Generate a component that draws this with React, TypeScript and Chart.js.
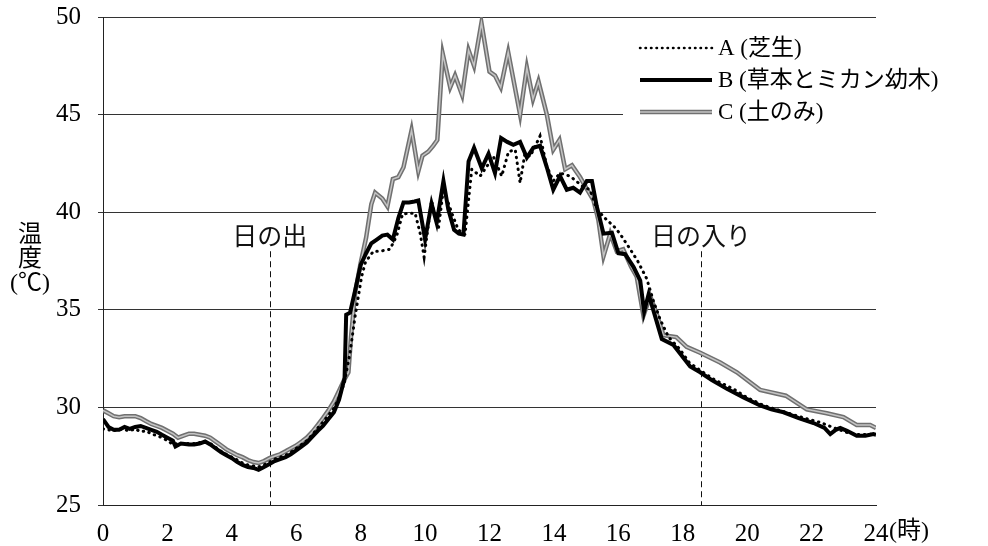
import React, { useEffect, useRef } from 'react';
import { Chart, registerables } from 'chart.js';

Chart.register(...registerables);

// ---- data (hours of day, temperature °C) ----
const hoursA = [0, 0.17, 0.33, 0.5, 0.67, 0.83, 1.0, 1.17, 1.33, 1.5, 1.67, 1.83, 2.0, 2.17, 2.33, 2.5, 2.67, 2.83, 3.0, 3.17, 3.33, 3.5, 3.67, 3.83, 4.0, 4.17, 4.33, 4.5, 4.67, 4.83, 5.0, 5.17, 5.33, 5.5, 5.67, 5.83, 6.0, 6.17, 6.33, 6.5, 6.67, 6.83, 7.0, 7.17, 7.33, 7.5, 7.67, 7.83, 7.95, 8.03, 8.14, 8.3, 8.4, 8.6, 8.91, 9.12, 9.3, 9.5, 9.69, 9.85, 9.97, 10.2, 10.41, 10.57, 10.83, 11.03, 11.24, 11.45, 11.71, 11.92, 12.12, 12.38, 12.59, 12.8, 12.95, 13.1, 13.26, 13.57, 13.78, 13.98, 14.19, 14.5, 14.91, 15.12, 15.33, 15.64, 15.85, 16.05, 16.37, 16.6, 16.88, 17.1, 17.3, 17.56, 17.9, 18.2, 18.54, 19.0, 19.57, 20.0, 20.51, 21.0, 21.54, 22.0, 22.27, 22.7, 23.09, 23.5, 23.92, 24];
const tempA = [28.9, 28.85, 28.8, 28.9, 28.85, 28.8, 28.9, 28.75, 28.8, 28.65, 28.55, 28.45, 28.3, 28.1, 28.15, 28.15, 28.15, 28.15, 28.2, 28.25, 28.15, 27.95, 27.75, 27.6, 27.45, 27.3, 27.15, 27.05, 27.0, 26.95, 27.05, 27.2, 27.35, 27.45, 27.55, 27.7, 27.9, 28.1, 28.3, 28.6, 28.95, 29.25, 29.6, 29.95, 30.5, 31.3, 32.8, 34.7, 35.9, 36.7, 37.4, 37.8, 38.0, 38.0, 38.1, 38.8, 39.9, 39.95, 39.95, 38.9, 37.7, 40.6, 39.1, 41.2, 39.95, 39.1, 38.85, 42.2, 41.85, 42.35, 42.85, 41.85, 43.1, 43.2, 41.5, 43.0, 42.85, 43.9, 42.35, 41.6, 42.0, 41.85, 41.3, 41.15, 40.15, 39.6, 39.3, 38.9, 38.1, 37.5, 36.6, 35.4, 34.5, 33.6, 33.0, 32.3, 31.9, 31.4, 30.95, 30.5, 30.1, 29.85, 29.57, 29.35, 29.23, 28.95, 28.72, 28.6, 28.63, 28.6];

const hoursB = [0, 0.17, 0.33, 0.5, 0.67, 0.83, 1.0, 1.17, 1.33, 1.5, 1.67, 1.83, 2.0, 2.17, 2.25, 2.42, 2.67, 2.83, 3.0, 3.17, 3.33, 3.5, 3.67, 3.83, 4.0, 4.17, 4.33, 4.5, 4.67, 4.83, 5.0, 5.17, 5.33, 5.5, 5.67, 5.83, 6.0, 6.17, 6.33, 6.5, 6.67, 6.83, 7.0, 7.17, 7.33, 7.5, 7.55, 7.67, 7.83, 8.0, 8.17, 8.33, 8.5, 8.67, 8.83, 9.0, 9.17, 9.33, 9.5, 9.67, 9.79, 10.0, 10.2, 10.36, 10.57, 10.72, 10.9, 11.05, 11.19, 11.35, 11.52, 11.76, 11.97, 12.17, 12.36, 12.55, 12.74, 12.95, 13.16, 13.36, 13.57, 13.78, 13.98, 14.19, 14.4, 14.6, 14.81, 15.02, 15.18, 15.33, 15.54, 15.8, 16.0, 16.21, 16.47, 16.68, 16.8, 16.94, 17.35, 17.71, 18.23, 18.54, 18.9, 19.37, 19.9, 20.4, 20.75, 21.13, 21.6, 22.06, 22.4, 22.58, 22.75, 22.89, 23.1, 23.4, 23.67, 23.92, 24];
const tempB = [29.4, 29.0, 28.85, 28.85, 29.0, 28.9, 29.0, 29.05, 28.95, 28.85, 28.75, 28.6, 28.45, 28.3, 28.0, 28.15, 28.1, 28.1, 28.15, 28.25, 28.1, 27.9, 27.7, 27.55, 27.4, 27.2, 27.05, 26.95, 26.9, 26.8, 26.95, 27.1, 27.25, 27.35, 27.45, 27.6, 27.8, 28.0, 28.2, 28.5, 28.8, 29.05, 29.4, 29.75, 30.4, 31.5, 34.75, 34.85, 36.0, 37.3, 37.9, 38.4, 38.6, 38.8, 38.85, 38.6, 39.7, 40.5, 40.5, 40.55, 40.6, 38.6, 40.45, 39.45, 41.6, 40.15, 39.1, 38.9, 38.85, 42.6, 43.3, 42.25, 43.0, 42.0, 43.8, 43.6, 43.45, 43.6, 42.8, 43.3, 43.4, 42.3, 41.15, 41.85, 41.15, 41.25, 41.0, 41.6, 41.6, 40.3, 38.9, 38.95, 37.9, 37.85, 37.2, 36.5, 34.9, 35.8, 33.5, 33.2, 32.1, 31.8, 31.4, 30.95, 30.5, 30.1, 29.9, 29.75, 29.45, 29.2, 28.95, 28.63, 28.85, 28.95, 28.8, 28.55, 28.55, 28.63, 28.6];

const hoursC = [0, 0.17, 0.33, 0.5, 0.67, 0.83, 1.0, 1.17, 1.33, 1.5, 1.67, 1.83, 2.0, 2.17, 2.33, 2.5, 2.67, 2.83, 3.0, 3.17, 3.33, 3.5, 3.67, 3.83, 4.0, 4.17, 4.33, 4.5, 4.67, 4.83, 5.0, 5.17, 5.33, 5.5, 5.67, 5.83, 6.0, 6.17, 6.33, 6.5, 6.67, 6.83, 7.0, 7.17, 7.33, 7.5, 7.62, 7.7, 7.83, 8.0, 8.17, 8.33, 8.45, 8.67, 8.83, 9.0, 9.17, 9.33, 9.58, 9.79, 9.92, 10.1, 10.25, 10.38, 10.55, 10.78, 10.93, 11.15, 11.35, 11.52, 11.75, 12.0, 12.17, 12.35, 12.58, 12.95, 13.16, 13.35, 13.52, 13.78, 13.98, 14.17, 14.35, 14.56, 14.81, 15.02, 15.23, 15.38, 15.54, 15.75, 15.95, 16.15, 16.4, 16.57, 16.78, 16.99, 17.19, 17.4, 17.8, 18.12, 18.54, 19.16, 19.68, 20.4, 21.2, 21.85, 22.47, 22.99, 23.4, 23.82, 24];
const tempC = [29.85, 29.7, 29.55, 29.5, 29.55, 29.55, 29.55, 29.45, 29.3, 29.15, 29.05, 28.95, 28.8, 28.65, 28.45, 28.55, 28.65, 28.65, 28.6, 28.55, 28.45, 28.25, 28.05, 27.85, 27.7, 27.55, 27.45, 27.3, 27.2, 27.15, 27.25, 27.4, 27.5, 27.6, 27.75, 27.9, 28.05, 28.25, 28.45, 28.75, 29.1, 29.45, 29.85, 30.3, 30.85, 31.45, 31.8, 33.6, 35.9, 37.4, 38.7, 40.4, 41.0, 40.7, 40.3, 41.7, 41.8, 42.3, 44.2, 42.1, 42.9, 43.1, 43.4, 43.7, 48.1, 46.4, 47.0, 46.0, 48.3, 47.5, 49.7, 47.2, 47.0, 46.4, 48.2, 45.0, 47.4, 45.8, 46.7, 45.0, 43.2, 43.7, 42.2, 42.4, 41.8, 41.2, 40.6, 39.6, 37.75, 38.9, 38.0, 38.1, 37.2, 36.7, 34.7, 35.7, 34.8, 33.7, 33.6, 33.1, 32.8, 32.3, 31.8, 30.9, 30.6, 29.9, 29.7, 29.5, 29.1, 29.1, 28.95];

const seriesLabels = ['A (芝生)', 'B (草本とミカン幼木)', 'C (土のみ)'];
const xTickStep = 2;
const xMin = 0;
const xMax = 24;
const yMin = 25;
const yMax = 50;
const yTickStep = 5;
const xUnitLabel = '(時)';
const yTitleLines = ['温', '度', '(℃)'];
const eventLabels = ['日の出', '日の入り'];
const eventHours = [5.18, 18.57];
const eventTopTemps = [38.0, 38.0];

const SERIF = "'Liberation Serif', 'Noto Sans CJK JP', serif";

function toXY(xs: number[], ys: number[]) {
  return xs.map((x, i) => ({ x, y: ys[i] }));
}

const overlayPlugin = {
  id: 'overlay',
  beforeDatasetsDraw(chart: any) {
    const { ctx, scales } = chart;
    const xs = scales.x;
    const ys = scales.y;
    ctx.save();
    // sunrise / sunset dashed markers
    ctx.strokeStyle = '#111';
    ctx.lineWidth = 1;
    ctx.setLineDash([6, 4]);
    eventHours.forEach((h, i) => {
      const px = Math.round(xs.getPixelForValue(h)) + 0.5;
      ctx.beginPath();
      ctx.moveTo(px, ys.getPixelForValue(eventTopTemps[i]));
      ctx.lineTo(px, ys.getPixelForValue(yMin));
      ctx.stroke();
    });
    ctx.setLineDash([]);
    ctx.fillStyle = '#111';
    ctx.font = `25px ${SERIF}`;
    ctx.textAlign = 'center';
    ctx.textBaseline = 'alphabetic';
    eventLabels.forEach((t, i) => {
      const px = xs.getPixelForValue(eventHours[i]);
      ctx.fillText(t, px, ys.getPixelForValue(eventTopTemps[i]) - 6);
    });

    // legend box
    const right = chart.chartArea.right;
    ctx.fillStyle = '#fff';
    ctx.fillRect(623, 28, right - 623, 98);
    const rowY = [48, 80, 112];
    const x0 = 640;
    const x1 = 712;
    // A dotted
    ctx.strokeStyle = '#000';
    ctx.lineCap = 'round';
    ctx.lineWidth = 2.5;
    ctx.setLineDash([0.5, 5]);
    ctx.beginPath();
    ctx.moveTo(x0, rowY[0]);
    ctx.lineTo(x1, rowY[0]);
    ctx.stroke();
    ctx.setLineDash([]);
    ctx.lineCap = 'butt';
    // B solid
    ctx.lineWidth = 4;
    ctx.beginPath();
    ctx.moveTo(x0, rowY[1]);
    ctx.lineTo(x1, rowY[1]);
    ctx.stroke();
    // C gray
    ctx.strokeStyle = '#707070';
    ctx.lineWidth = 4.5;
    ctx.beginPath();
    ctx.moveTo(x0, rowY[2]);
    ctx.lineTo(x1, rowY[2]);
    ctx.stroke();
    ctx.strokeStyle = '#c4c4c4';
    ctx.lineWidth = 1.5;
    ctx.beginPath();
    ctx.moveTo(x0, rowY[2]);
    ctx.lineTo(x1, rowY[2]);
    ctx.stroke();
    ctx.fillStyle = '#000';
    ctx.font = `23px ${SERIF}`;
    ctx.textAlign = 'left';
    ctx.textBaseline = 'middle';
    seriesLabels.forEach((t, i) => ctx.fillText(t, 718, rowY[i] + 1));
    ctx.restore();
  },
  afterDraw(chart: any) {
    const { ctx, scales } = chart;
    ctx.save();
    ctx.fillStyle = '#000';
    ctx.font = `24px ${SERIF}`;
    ctx.textAlign = 'center';
    ctx.textBaseline = 'middle';
    const ly = [236, 260, 284];
    yTitleLines.forEach((t, i) => ctx.fillText(t, 30, ly[i]));
    // x unit label after the last tick
    ctx.font = `24px ${SERIF}`;
    ctx.textAlign = 'left';
    ctx.fillText(xUnitLabel, scales.x.getPixelForValue(xMax) + 13, 532);
    ctx.restore();
  },
};

export default function App() {
  const ref = useRef<HTMLCanvasElement | null>(null);
  useEffect(() => {
    if (!ref.current) return;
    const tickFont = { family: SERIF, size: 25 };
    const chart = new Chart(ref.current, {
      type: 'line',
      data: {
        datasets: [
          {
            label: seriesLabels[0],
            data: toXY(hoursA, tempA),
            borderColor: '#000',
            borderWidth: 3,
            borderDash: [0.5, 5.5],
            borderCapStyle: 'round',
            pointRadius: 0,
          },
          {
            label: seriesLabels[1],
            data: toXY(hoursB, tempB),
            borderColor: '#000',
            borderWidth: 4,
            pointRadius: 0,
          },
          {
            label: seriesLabels[2] + ' inner',
            data: toXY(hoursC, tempC),
            borderColor: '#c4c4c4',
            borderWidth: 1.5,
            pointRadius: 0,
          },
          {
            label: seriesLabels[2],
            data: toXY(hoursC, tempC),
            borderColor: '#707070',
            borderWidth: 4.5,
            pointRadius: 0,
          },
        ],
      },
      options: {
        animation: false,
        responsive: false,
        maintainAspectRatio: false,
        layout: { padding: { left: 0, top: 17, right: 112, bottom: 0 } },
        plugins: { legend: { display: false }, tooltip: { enabled: false } },
        elements: { line: { tension: 0 }, point: { radius: 0 } },
        scales: {
          x: {
            type: 'linear',
            min: xMin,
            max: xMax,
            ticks: { stepSize: xTickStep, font: tickFont, color: '#000', padding: 14, maxRotation: 0, autoSkip: false },
            grid: { display: false, drawTicks: false },
            border: { display: true, color: '#222', width: 1 },
            afterFit: (s: any) => { s.height = 41; s.paddingLeft = 0; s.paddingRight = 0; },
          },
          y: {
            min: yMin,
            max: yMax,
            ticks: { stepSize: yTickStep, font: tickFont, color: '#000', padding: 17 },
            grid: { color: '#333', lineWidth: 1, tickLength: 5, drawTicks: true },
            border: { display: true, color: '#222', width: 1 },
            afterFit: (s: any) => { s.width = 103; s.paddingTop = 0; s.paddingBottom = 0; },
          },
        },
      } as any,
      plugins: [overlayPlugin],
    });
    return () => chart.destroy();
  }, []);
  return (
    <div style={{ position: 'absolute', left: 0, top: 0, width: 988, height: 546, background: '#fff' }}>
      <canvas ref={ref} width={988} height={546} style={{ display: 'block' }} />
    </div>
  );
}
